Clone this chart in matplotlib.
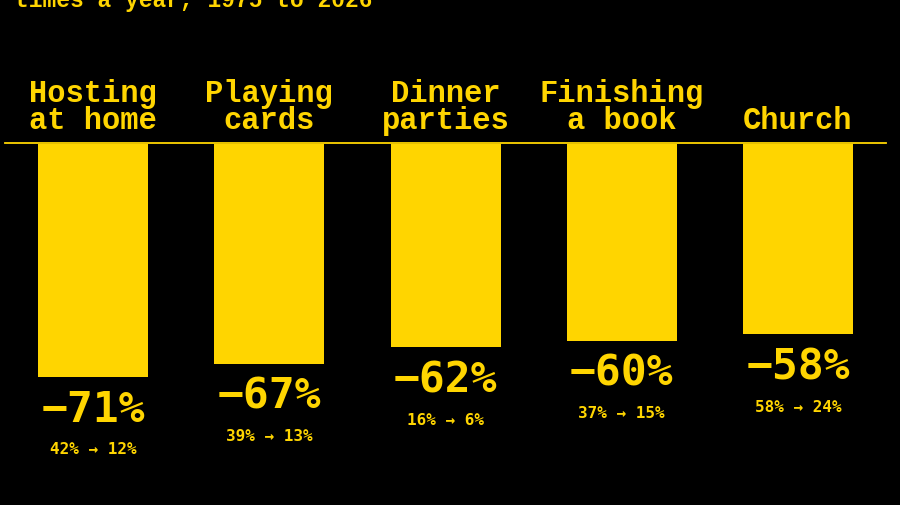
import matplotlib
matplotlib.use("Agg")
import matplotlib.pyplot as plt

# data
activities = ["Hosting\nat home", "Playing\ncards", "Dinner\nparties", "Finishing\na book", "Church"]
change = [-71, -67, -62, -60, -58]
start_share = [42, 39, 16, 37, 58]
end_share = [12, 13, 6, 15, 24]
subtitle = "times a year, 1975 to 2026"

yellow = "#FFD500"
mono = "Liberation Mono"
num_font = "DejaVu Sans Mono"

W, H = 900, 506
fig = plt.figure(figsize=(9, 5.06), dpi=100, facecolor="black")
ax = fig.add_axes([0, 0, 1, 1])
ax.set_facecolor("black")

# pixel layout -> data scale
step = 176.25   # px between bar centres
x0 = 93         # first bar centre, px
base = 145      # bar top, px from top
ppu = 3.28      # px per percentage point
ax.set_xlim(-x0 / step, (W - x0) / step)
ax.set_ylim((H - base) / ppu, -base / ppu)
ax.axis("off")

xs = list(range(len(activities)))
heights = [abs(c) for c in change]
ax.bar(xs, heights, width=110 / step, bottom=0, color=yellow, align="center")

# rule across the top of the bars
ax.plot([(5 - x0) / step, (886 - x0) / step], [-0.3, -0.3], color=yellow, lw=1.3)

for x, lab, c, s, e in zip(xs, activities, change, start_share, end_share):
    ax.annotate(lab, (x, 0), xytext=(0, 9), textcoords="offset pixels",
                ha="center", va="bottom", color=yellow, fontsize=22,
                family=mono, weight="bold", linespacing=0.85)
    ax.annotate("\u2212%d%%" % abs(c), (x, abs(c)), xytext=(0, -32),
                textcoords="offset pixels", ha="center", va="center",
                color=yellow, fontsize=31, family=num_font, weight="bold")
    ax.annotate("%d%% \u2192 %d%%" % (s, e), (x, abs(c)), xytext=(0, -72),
                textcoords="offset pixels", ha="center", va="center",
                color=yellow, fontsize=11.5, family=num_font, weight="bold")

fig.text(15 / W, 1 - 7 / H, subtitle, ha="left", va="baseline", color=yellow,
         fontsize=16.5, family=mono, weight="bold")

fig.savefig("out.png", dpi=100, facecolor="black")
